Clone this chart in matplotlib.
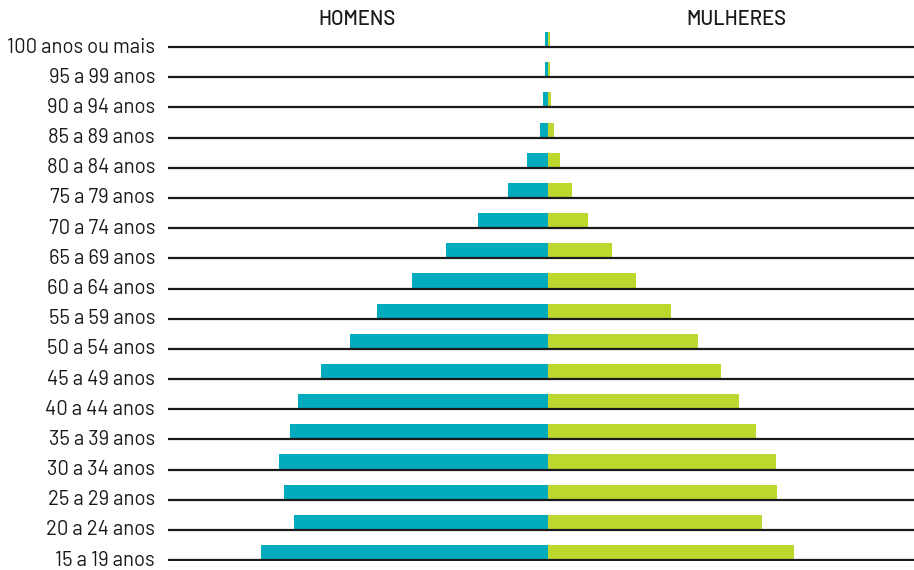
import matplotlib
matplotlib.use("Agg")
import matplotlib.pyplot as plt

categories = ["15 a 19 anos", "20 a 24 anos", "25 a 29 anos", "30 a 34 anos",
              "35 a 39 anos", "40 a 44 anos", "45 a 49 anos", "50 a 54 anos",
              "55 a 59 anos", "60 a 64 anos", "65 a 69 anos", "70 a 74 anos",
              "75 a 79 anos", "80 a 84 anos", "85 a 89 anos", "90 a 94 anos",
              "95 a 99 anos", "100 anos ou mais"]
homens = [287, 254, 264, 269, 258, 250, 227, 198, 171, 136, 102, 70, 40, 21, 8, 5, 3, 3]
mulheres = [246, 214, 229, 228, 208, 191, 173, 150, 123, 88, 64, 40, 24, 12, 6, 3, 2, 1.5]
headers = ["HOMENS", "MULHERES"]

fam = ["Barlow", "DejaVu Sans"]

teal = "#00ABBD"
lime = "#BED72F"
ink = "#1a1a1a"

fig = plt.figure(figsize=(9.14, 5.70), dpi=100)
W, H = 914, 570
ax = fig.add_axes([168 / W, (H - 561) / H, 1 - 168 / W, (561 - 32) / H])
ys = list(range(len(categories)))
ax.barh(ys, [-v for v in homens], height=0.5, align="edge", color=teal, zorder=2)
ax.barh(ys, mulheres, height=0.5, align="edge", color=lime, zorder=2)
for y in ys:
    ax.axhline(y, color=ink, lw=1.6, zorder=3)
ax.set_xlim(-380, 366)
ax.set_ylim(-0.03, 17.5)
ax.axis("off")

for y, lab in zip(ys, categories):
    ax.text(-393, y, lab, ha="right", va="center",
            fontsize=14.6, family=fam, color=ink)

fig.text(357 / W, 1 - 19.5 / H, headers[0], ha="center", va="center",
         fontsize=14.5, family=fam, weight="medium", color=ink)
fig.text(736 / W, 1 - 19.5 / H, headers[1], ha="center", va="center",
         fontsize=14.5, family=fam, weight="medium", color=ink)

fig.savefig("out.png", dpi=100)
